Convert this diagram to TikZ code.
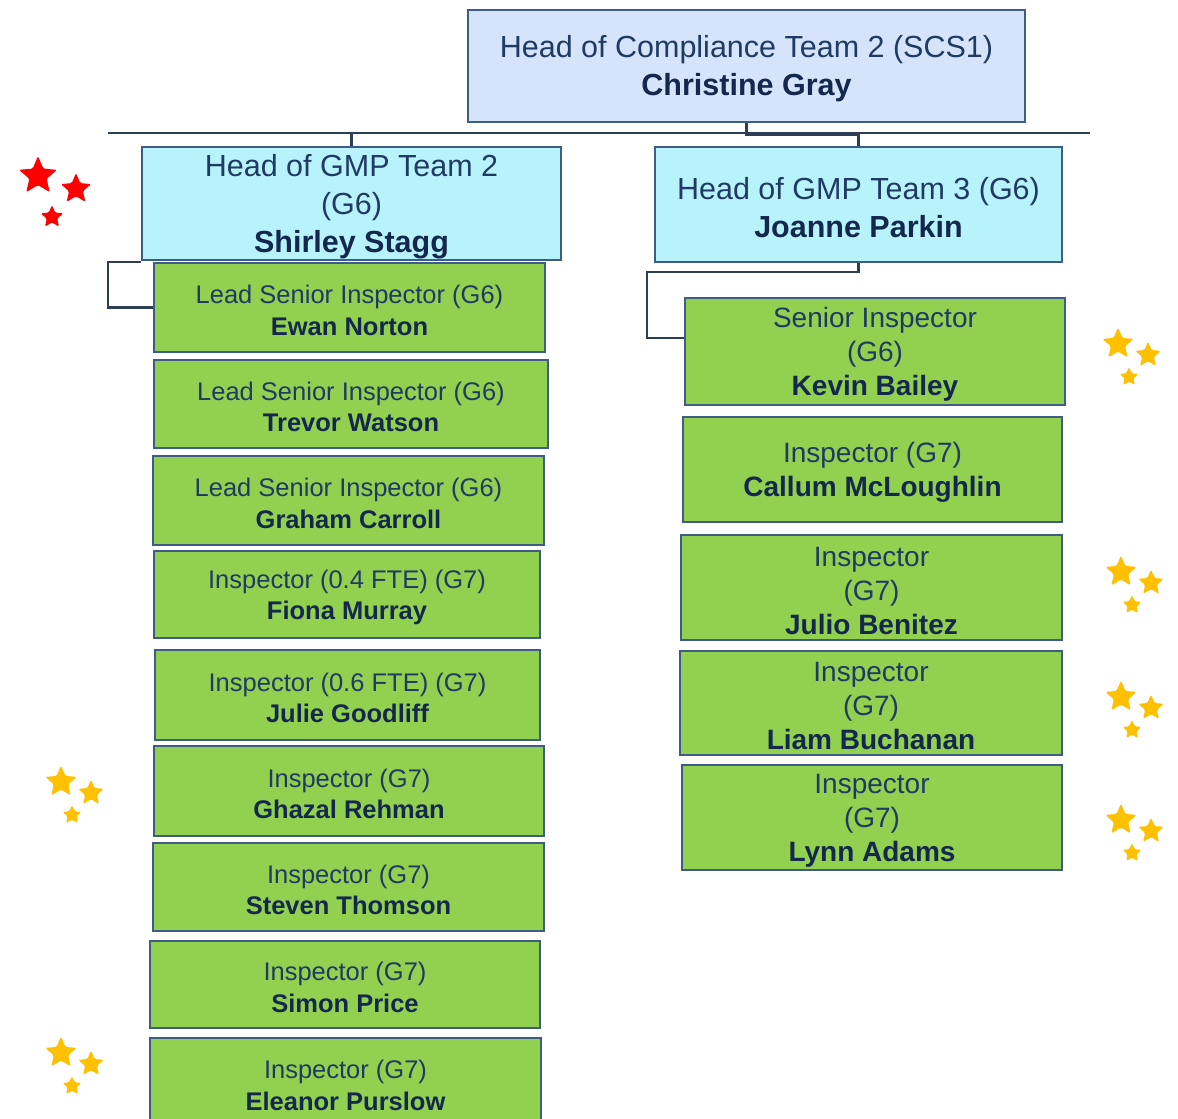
\documentclass[tikz,border=0pt]{standalone}
\usepackage{fontspec}
\setmainfont{Liberation Sans}
\usetikzlibrary{shapes.geometric,calc}
\definecolor{topfill}{HTML}{D5E3FB}
\definecolor{headfill}{HTML}{B8F3FC}
\definecolor{staff}{HTML}{92D050}
\definecolor{edge}{HTML}{3F5C86}
\definecolor{ink}{HTML}{1F3B63}
\definecolor{inkb}{HTML}{14284E}
\definecolor{wire}{HTML}{2E3F55}
\definecolor{gold}{HTML}{FFC000}
\newcommand\pname[1]{\textcolor{inkb}{\bfseries #1}}
\begin{document}
\begin{tikzpicture}[x=1pt,y=-1pt,
  box/.style={draw=edge, line width=2pt, inner sep=0pt},
  txt/.style={align=center, inner sep=0pt, text=ink, yshift=-3pt},
  bigtxt/.style={txt, font=\fontsize{30.5}{38}\selectfont},
  smalltxt/.style={txt, font=\fontsize{25.5}{31.5}\selectfont},
  midtxt/.style={txt, font=\fontsize{28}{34}\selectfont},
  topbox/.style={box, fill=topfill, label={[bigtxt]center:{#1}}},
  headbox/.style={box, fill=headfill, label={[bigtxt]center:{#1}}},
  lstaff/.style={box, fill=staff, label={[smalltxt]center:{#1}}},
  rstaff/.style={box, fill=staff, label={[midtxt]center:{#1}}},
  conn/.style={draw=wire, line width=2.2pt},
  starshape/.style={star, star points=5, star point ratio=2.2, inner sep=0pt, rounded corners=1.5pt, draw=none},
  redstar/.style={starshape, fill=red},
  goldstar/.style={starshape, fill=gold}]
\useasboundingbox (0,0) rectangle (1178,1119);
\clip (0,0) rectangle (1178,1119);
\fill[white] (0,0) rectangle (1178,1119);

\coordinate (hl) at (108,133);
\coordinate (hr) at (1090,133);
\coordinate (lbend) at (108,262);
\coordinate (rbend) at (647,272);
\coordinate (kin) at (693,338);

% main horizontal rail, under the boxes
\draw[conn] (hl) -- (hr);

% top of the chart
\node[topbox={Head of Compliance Team 2 (SCS1)\\\pname{Christine Gray}},
  minimum width=557, minimum height=112] (head) at (746.5,66) {};

% team heads
\node[headbox={Head of GMP Team 2\\(G6)\\\pname{Shirley Stagg}},
  minimum width=419, minimum height=113] (gmp2) at (351.5,203.5) {};
\node[headbox={Head of GMP Team 3 (G6)\\\pname{Joanne Parkin}},
  minimum width=407, minimum height=115] (gmp3) at (858.5,204.5) {};

\draw[conn] (head.south) -- (head.south |- hl);
\draw[conn] (gmp2.north |- hl) -- (gmp2.north);
\draw[conn] (head.south) -- ++(0,12) -| (gmp3.north);
\draw[conn] (gmp3.south) |- (rbend) |- (kin);

% team 2 staff
\node[lstaff={Lead Senior Inspector (G6)\\\pname{Ewan Norton}},
  minimum width=391, minimum height=89] (ewan) at (349.5,307.5) {};
\node[lstaff={Lead Senior Inspector (G6)\\\pname{Trevor Watson}},
  minimum width=394, minimum height=88] (trevor) at (351,404) {};
\node[lstaff={Lead Senior Inspector (G6)\\\pname{Graham Carroll}},
  minimum width=391, minimum height=89] (graham) at (348.5,500.5) {};
\node[lstaff={Inspector (0.4 FTE) (G7)\\\pname{Fiona Murray}},
  minimum width=386, minimum height=87] (fiona) at (347,594.5) {};
\node[lstaff={Inspector (0.6 FTE) (G7)\\\pname{Julie Goodliff}},
  minimum width=385, minimum height=90] (julie) at (347.5,695) {};
\node[lstaff={Inspector (G7)\\\pname{Ghazal Rehman}},
  minimum width=390, minimum height=90] (ghazal) at (349,791) {};
\node[lstaff={Inspector (G7)\\\pname{Steven Thomson}},
  minimum width=391, minimum height=88] (steven) at (348.5,887) {};
\node[lstaff={Inspector (G7)\\\pname{Simon Price}},
  minimum width=390, minimum height=87] (simon) at (345,984.5) {};
\node[lstaff={Inspector (G7)\\\pname{Eleanor Purslow}},
  minimum width=391, minimum height=89] (eleanor) at (345.5,1082.5) {};

% left elbow from the team 2 head
\draw[conn] (ewan.west) -| (lbend) -- (lbend -| gmp2.west);

% team 3 staff
\node[rstaff={Senior Inspector\\(G6)\\\pname{Kevin Bailey}},
  minimum width=380, minimum height=107] (kevin) at (875,351.5) {};
\node[rstaff={Inspector (G7)\\\pname{Callum McLoughlin}},
  minimum width=379, minimum height=105] (callum) at (872.5,469.5) {};
\node[rstaff={Inspector\\(G7)\\\pname{Julio Benitez}},
  minimum width=381, minimum height=105] (julio) at (871.5,587.5) {};
\node[rstaff={Inspector\\(G7)\\\pname{Liam Buchanan}},
  minimum width=382, minimum height=104] (liam) at (871,703) {};
\node[rstaff={Inspector\\(G7)\\\pname{Lynn Adams}},
  minimum width=380, minimum height=105] (lynn) at (872,817.5) {};

% red stars
\node[redstar, minimum size=40] (r1) at (38,176) {};
\node[redstar, minimum size=32] (r2) at (76,189) {};
\node[redstar, minimum size=24] (r3) at (52,217) {};

% gold star clusters
\foreach \x/\y [count=\i] in {1118/344, 1121/572, 1121/697, 1121/820, 61/782, 61/1053} {
  \node[goldstar, minimum size=33] (g\i a) at (\x,\y) {};
  \node[goldstar, minimum size=27] (g\i b) at (\x+30,\y+11) {};
  \node[goldstar, minimum size=20] (g\i c) at (\x+11,\y+33) {};
}
\end{tikzpicture}
\end{document}
